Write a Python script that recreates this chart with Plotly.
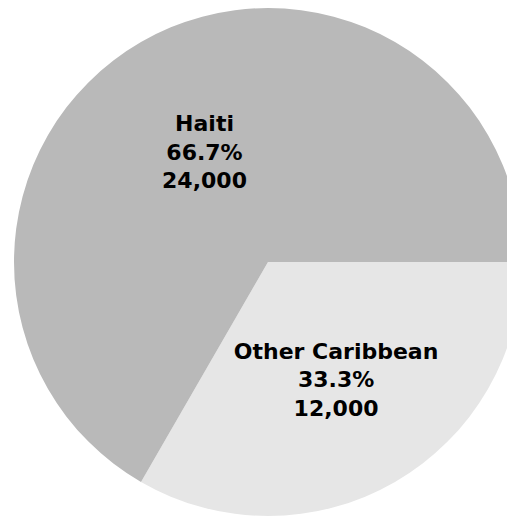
import plotly.graph_objects as go

# Caribbean origin split
labels = ['Other Caribbean', 'Haiti']
values = [12000, 24000]
colors = ['#e6e6e6', '#b9b9b9']

fig = go.Figure(go.Pie(
    labels=labels,
    values=values,
    sort=False,
    direction='clockwise',
    rotation=90,
    marker=dict(colors=colors, line=dict(width=0)),
    texttemplate='<b>%{label}</b><br><b>%{percent:.1%}</b><br><b>%{value:,}</b>',
    textposition='inside',
    insidetextorientation='horizontal',
    textfont=dict(family='DejaVu Sans', size=22, color='black'),
    hoverinfo='skip',
))

# page body has an 8px margin, so offsets are shifted by that
fig.update_layout(
    width=520, height=519,
    margin=dict(l=6, r=6, t=0, b=11),
    showlegend=False,
    paper_bgcolor='white',
)

fig.write_html('out.html')
